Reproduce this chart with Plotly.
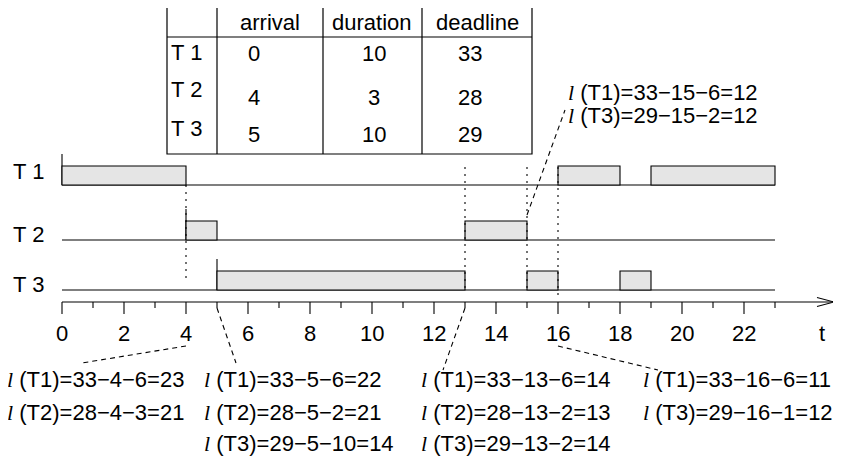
import plotly.graph_objects as go

# ---------------- data ----------------
tasks = ["T 1", "T 2", "T 3"]
arrival = [0, 4, 5]
duration = [10, 3, 10]
deadline = [33, 28, 29]

# executed slices of the schedule
seg_task = [0, 0, 0, 1, 1, 2, 2, 2]
seg_start = [0, 16, 19, 4, 13, 5, 15, 18]
seg_end = [4, 18, 23, 5, 15, 13, 16, 19]

t_end = 23
tick_values = list(range(0, 24))
tick_labels = ["0", "2", "4", "6", "8", "10", "12", "14", "16", "18", "20", "22"]
tick_label_pos = [0, 2, 4, 6, 8, 10, 12, 14, 16, 18, 20, 22]

decision_times = [4, 13, 15, 16]

# laxity notes: time point -> lines
lax_times = [4, 5, 13, 16, 15]
lax_lines = [
    ["(T1)=33\u22124\u22126=23", "(T2)=28\u22124\u22123=21"],
    ["(T1)=33\u22125\u22126=22", "(T2)=28\u22125\u22122=21", "(T3)=29\u22125\u221210=14"],
    ["(T1)=33\u221213\u22126=14", "(T2)=28\u221213\u22122=13", "(T3)=29\u221213\u22122=14"],
    ["(T1)=33\u221216\u22126=11", "(T3)=29\u221216\u22121=12"],
    ["(T1)=33\u221215\u22126=12", "(T3)=29\u221215\u22122=12"],
]

# ---------------- layout constants (pixels of the 841x457 view) ----------------
VW, VH = 841, 457
OFF = 8                     # default page body margin
W, H = VW - OFF, VH - OFF   # figure size
X0, PXU = 62, 31            # pixel of t=0, pixels per time unit
row_base = [185, 240, 290]
bar_h = 19
mark_h = 31
axis_y = 302
FONT = "Liberation Sans, Arial, sans-serif"
FS = 22
FILL = "#e5e5e5"


def T(px):
    return (px - X0) / PXU


def PX(px):
    return (px - OFF) / W


def PY(py):
    return 1 - (py - OFF) / H


def font():
    return dict(size=FS, family=FONT, color="black")


shapes = []
ann = []

# baselines, arrival marks, bars
for i, name in enumerate(tasks):
    shapes.append(dict(type="line", xref="x", yref="y", x0=0, x1=t_end,
                       y0=row_base[i], y1=row_base[i], line=dict(color="black", width=1.1)))
    shapes.append(dict(type="line", xref="x", yref="y", x0=arrival[i], x1=arrival[i],
                       y0=row_base[i] - mark_h, y1=row_base[i], line=dict(color="black", width=1.1)))
    ann.append(dict(x=PX(28), y=PY(row_base[i] - 14 if i == 0 else row_base[i] - 6),
                    xref="paper", yref="paper", text=name, showarrow=False,
                    xanchor="center", yanchor="middle", font=font()))

for k in range(len(seg_start)):
    r = seg_task[k]
    shapes.append(dict(type="rect", xref="x", yref="y", x0=seg_start[k], x1=seg_end[k],
                       y0=row_base[r] - bar_h, y1=row_base[r], fillcolor=FILL,
                       line=dict(color="black", width=1.1)))

# dotted decision lines
dot_span = {4: (185, 280), 13: (167, 291), 15: (167, 291), 16: (167, 296)}
for t in decision_times:
    y0, y1 = dot_span[t]
    shapes.append(dict(type="line", xref="x", yref="y", x0=t, x1=t, y0=y0, y1=y1,
                       line=dict(color="black", width=1.1, dash="2px,5px")))

# time axis
shapes.append(dict(type="line", xref="x", yref="y", x0=0, x1=T(834), y0=axis_y, y1=axis_y,
                   line=dict(color="black", width=1.1)))
shapes.append(dict(type="path", xref="x", yref="y",
                   path=f"M {T(817)},{axis_y-4.5} L {T(834)},{axis_y} L {T(817)},{axis_y+4.5}",
                   line=dict(color="black", width=1.1)))
for t in tick_values:
    ln = 12 if t % 2 == 0 else 6
    shapes.append(dict(type="line", xref="x", yref="y", x0=t, x1=t, y0=axis_y, y1=axis_y + ln,
                       line=dict(color="black", width=1.1)))
for t, lab in zip(tick_label_pos, tick_labels):
    ann.append(dict(x=t, y=333, xref="x", yref="y", text=lab, showarrow=False,
                    xanchor="center", yanchor="middle", font=font()))
ann.append(dict(x=T(822), y=333, xref="x", yref="y", text="t", showarrow=False,
                xanchor="center", yanchor="middle", font=font()))

# laxity notes
note_pos = {4: (5, [379, 412]), 5: (202, [379, 412, 443]), 13: (419, [379, 412, 443]),
            16: (641, [379, 412]), 15: (566, [92, 116])}
ell = '<span style="font-family:Liberation Serif, Times New Roman, serif"><i>l</i></span> '
for t, lines in zip(lax_times, lax_lines):
    x, ys = note_pos[t]
    for line, y in zip(lines, ys):
        ann.append(dict(x=PX(x), y=PY(y), xref="paper", yref="paper", text=ell + line,
                        showarrow=False, xanchor="left", yanchor="middle", font=font()))

# dashed leaders (from the time point to its note)
leaders = [(4, 346, 82, 363), (5, 308, 236, 363), (13, 308, 443, 370),
           (16, 346, 658, 370), (15, 215, 565, 110)]
for t, y0, xe, ye in leaders:
    shapes.append(dict(type="line", xref="x", yref="y", x0=t, x1=T(xe), y0=y0, y1=ye,
                       line=dict(color="black", width=1.1, dash="5px,4px")))

# ---------------- parameter table ----------------
tl, tr, tt, tb = 167, 532, 5, 154
col_x = [217, 323, 422]
head_y = 37
shapes.append(dict(type="rect", xref="paper", yref="paper", x0=PX(tl), x1=PX(tr),
                   y0=PY(tt), y1=PY(tb), line=dict(color="black", width=1.2)))
for cx in col_x:
    shapes.append(dict(type="line", xref="paper", yref="paper", x0=PX(cx), x1=PX(cx),
                       y0=PY(tt), y1=PY(tb), line=dict(color="black", width=1.2)))
shapes.append(dict(type="line", xref="paper", yref="paper", x0=PX(tl), x1=PX(tr),
                   y0=PY(head_y), y1=PY(head_y), line=dict(color="black", width=1.2)))

headers = ["arrival", "duration", "deadline"]
head_cx = [270, 372, 477]
for h, cx in zip(headers, head_cx):
    ann.append(dict(x=PX(cx), y=PY(22), xref="paper", yref="paper", text=h, showarrow=False,
                    xanchor="center", yanchor="middle", font=font()))
label_y = [52, 90, 128]
value_y = [54, 97, 134]
val_cx = [254, 374, 470]
for i, name in enumerate(tasks):
    ann.append(dict(x=PX(169), y=PY(label_y[i]), xref="paper", yref="paper", text=name,
                    showarrow=False, xanchor="left", yanchor="middle", font=font()))
    for v, cx in zip([arrival[i], duration[i], deadline[i]], val_cx):
        ann.append(dict(x=PX(cx), y=PY(value_y[i]), xref="paper", yref="paper", text=str(v),
                        showarrow=False, xanchor="center", yanchor="middle", font=font()))

fig = go.Figure()
fig.add_trace(go.Scatter(x=[0], y=[0], mode="markers", marker=dict(opacity=0),
                         hoverinfo="skip", showlegend=False))
fig.update_layout(
    width=W, height=H,
    margin=dict(l=0, r=0, t=0, b=0, pad=0),
    paper_bgcolor="white", plot_bgcolor="white",
    xaxis=dict(range=[T(OFF), T(OFF + W)], visible=False, fixedrange=True),
    yaxis=dict(range=[OFF + H, OFF], visible=False, fixedrange=True),
    shapes=shapes, annotations=ann, showlegend=False,
)
fig.write_html("out.html")
